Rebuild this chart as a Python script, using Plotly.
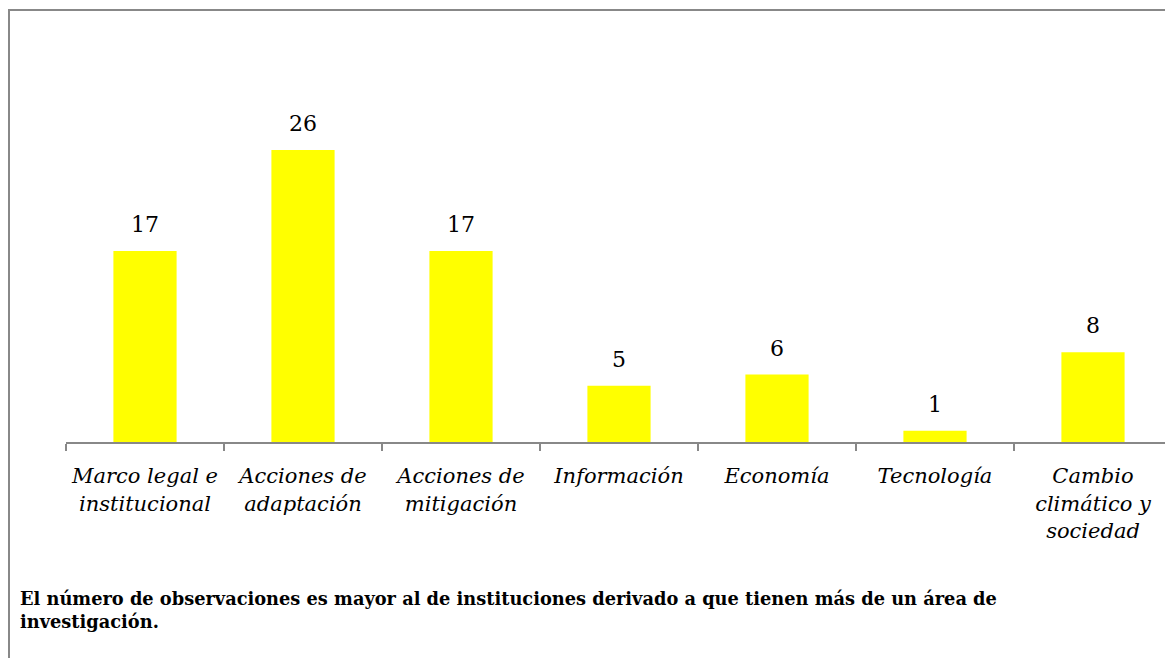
import plotly.graph_objects as go

categories = ["Marco legal e<br>institucional", "Acciones de<br>adaptación", "Acciones de<br>mitigación",
              "Información", "Economía", "Tecnología", "Cambio<br>climático y<br>sociedad"]
values = [17, 26, 17, 5, 6, 1, 8]
note = ("El número de observaciones es mayor al de instituciones derivado a que tienen más de un área de<br>"
        "investigación.")

FONT = "DejaVu Serif"
W, H = 1173, 658
ml, mr, mt, mb = 58, 9, 97, 224
pw, ph = W - ml - mr, H - mt - mb

def px_x(x):
    return (x - ml) / pw

def px_y(y):
    return (H - mb - y) / ph

fig = go.Figure(go.Bar(
    x=categories, y=values, width=0.4,
    marker=dict(color="#FFFF00", line=dict(width=0)),
    hoverinfo="skip",
))

for c, v in zip(categories, values):
    fig.add_annotation(x=c, y=v, text=str(v), showarrow=False, yanchor="bottom",
                       yshift=12, font=dict(family=FONT, size=22, color="black"))

fig.add_annotation(xref="paper", yref="paper", x=px_x(10), y=px_y(578), xanchor="left", yanchor="top",
                   align="left", text="<b>" + note + "</b>", showarrow=False,
                   font=dict(family=FONT, size=17.8, color="black"))

fig.add_shape(type="rect", xref="paper", yref="paper", x0=px_x(1), x1=px_x(1190), y0=px_y(700), y1=px_y(2),
              line=dict(color="#888888", width=2), fillcolor="rgba(0,0,0,0)", layer="above")

fig.update_layout(
    width=W, height=H, margin=dict(l=ml, r=mr, t=mt, b=mb),
    paper_bgcolor="white", plot_bgcolor="white", showlegend=False,
    font=dict(family=FONT, color="black"),
    xaxis=dict(showline=True, linecolor="#888888", linewidth=2, ticks="outside", tickson="boundaries",
               ticklen=7, tickcolor="#888888", tickwidth=2, tickangle=0, ticklabelstandoff=14,
               tickfont=dict(family=FONT, size=21, style="italic", color="black"), range=[-0.5, 6.5],
               showgrid=False, zeroline=False, fixedrange=True),
    yaxis=dict(visible=False, range=[0, 30], showgrid=False, zeroline=False, fixedrange=True),
)

fig.write_html("out.html")
